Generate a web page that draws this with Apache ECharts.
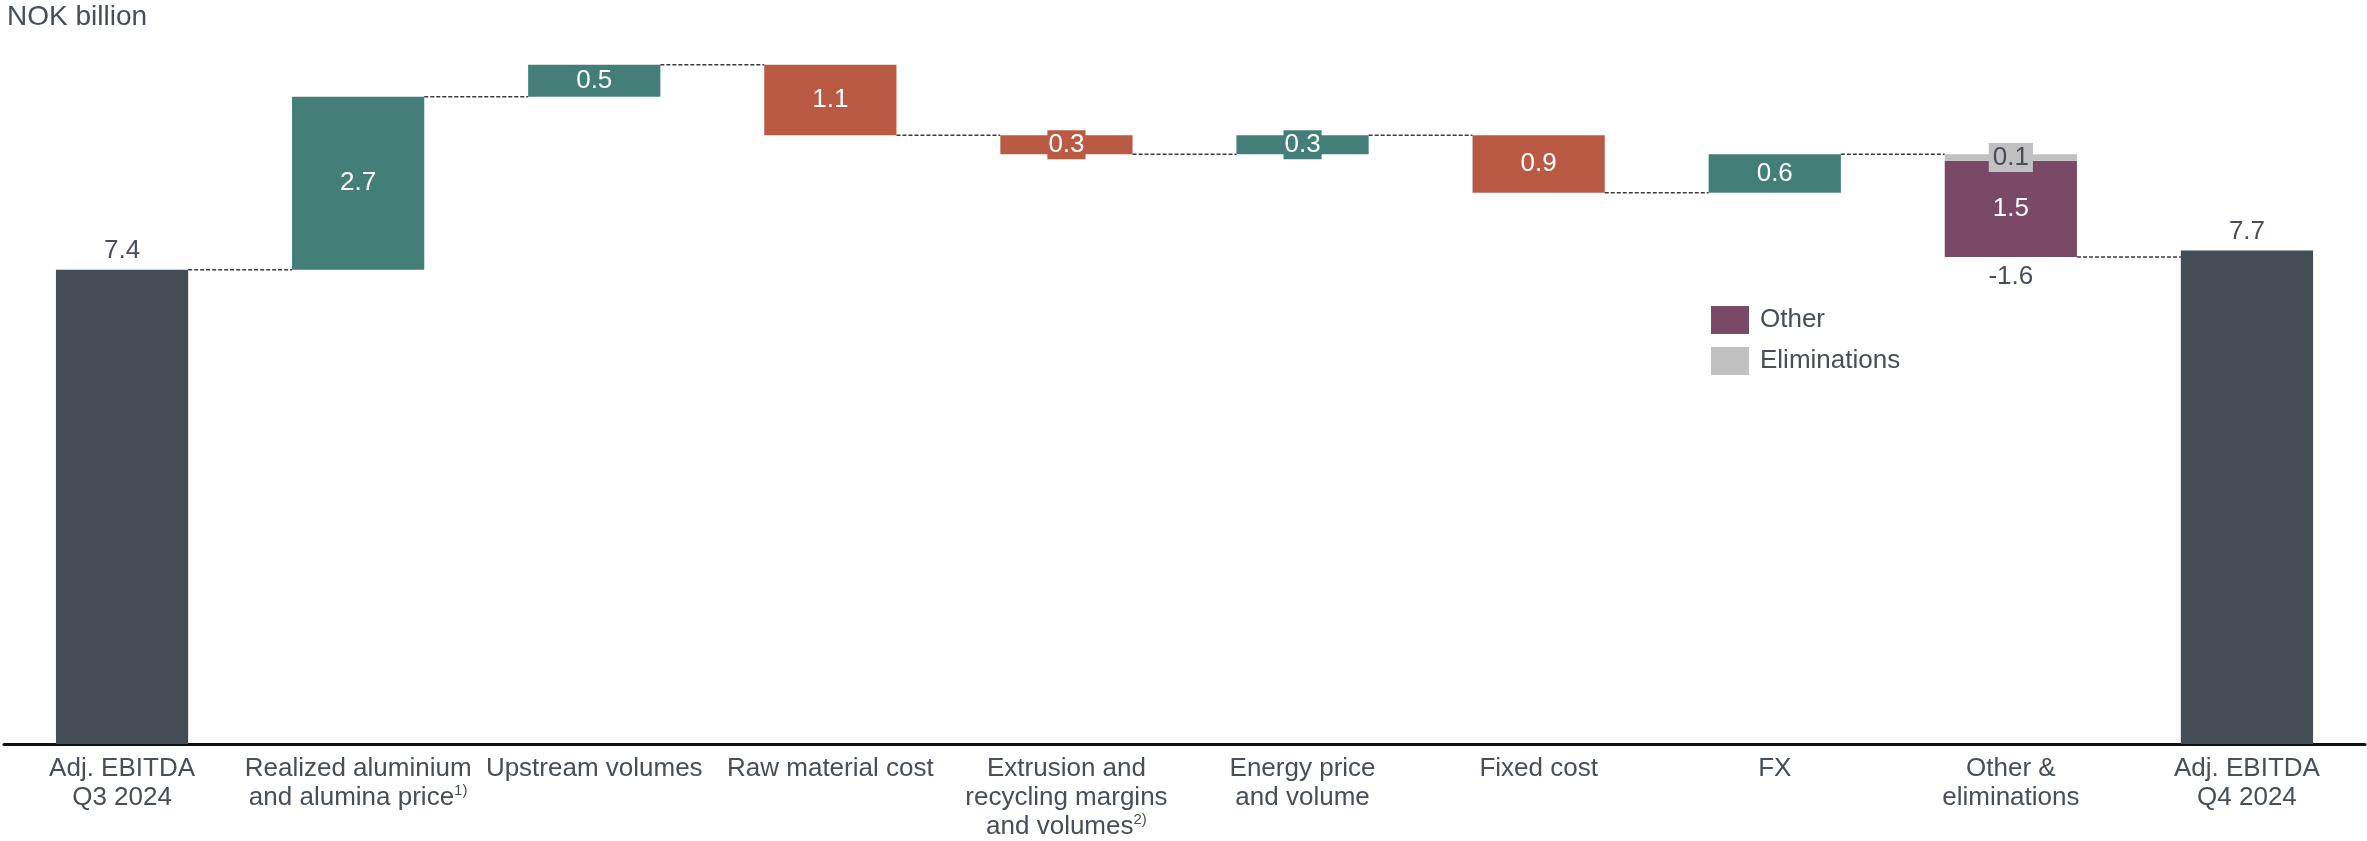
<!DOCTYPE html>
<html>
<head>
<meta charset="utf-8">
<script src="https://cdn.jsdelivr.net/npm/echarts@6/dist/echarts.min.js"></script>
<style>
  html, body { margin: 0; padding: 0; background: #ffffff; }
  #chart { width: 2367px; height: 841px; }
</style>
</head>
<body>
<div id="chart"></div>
<script>
// Adjusted EBITDA bridge, Q3 2024 -> Q4 2024 (NOK billion)
const categories = [
  'Adj. EBITDA\nQ3 2024',
  'Realized aluminium\nand alumina price',
  'Upstream volumes',
  'Raw material cost',
  'Extrusion and\nrecycling margins\nand volumes',
  'Energy price\nand volume',
  'Fixed cost',
  'FX',
  'Other &\neliminations',
  'Adj. EBITDA\nQ4 2024'
];
const footnotes = ['', '1)', '', '', '2)', '', '', '', '', ''];

const startValue = 7.4;
const endValue = 7.7;
// movements for the single-driver steps (index 1..7)
const changes = [null, 2.7, 0.5, -1.1, -0.3, 0.3, -0.9, 0.6, null, null];
// the combined "Other & eliminations" step
const otherValue = -1.5;
const eliminationsValue = -0.1;

const legendNames = ['Other', 'Eliminations'];

const COLORS = {
  total: '#444c56',
  up: '#437f78',
  down: '#ba5a45',
  other: '#7a4968',
  elim: '#c0c0c0',
  text: '#474e58'
};
const FONT = '"Liberation Sans", Arial, sans-serif';
const BAR_W = 0.56;

const r1 = v => Math.round(v * 10) / 10;

// build floating bar pieces
const n = categories.length;
const base = new Array(n).fill('-');
const totals = new Array(n).fill('-');
const ups = new Array(n).fill('-');
const downs = new Array(n).fill('-');
const others = new Array(n).fill('-');
const elims = new Array(n).fill('-');
const levels = []; // running level after each step, for connectors

let running = startValue;
totals[0] = startValue;
levels.push([0, running]);
for (let i = 1; i <= 7; i++) {
  const c = changes[i];
  const next = r1(running + c);
  base[i] = Math.min(running, next);
  if (c >= 0) ups[i] = c; else downs[i] = -c;
  running = next;
  levels.push([i, running]);
}
const combined = r1(otherValue + eliminationsValue);
const afterOther = r1(running + combined);
base[8] = afterOther;
others[8] = -otherValue;
elims[8] = -eliminationsValue;
running = afterOther;
levels.push([8, running]);
totals[9] = endValue;

// label under the combined step shows its net total
const baseData = base.map((v, i) => i === 8 ? {
  value: v,
  label: {
    show: true, position: 'insideTop', distance: 7,
    color: COLORS.text, fontSize: 26, fontFamily: FONT,
    formatter: () => combined.toFixed(1)
  }
} : v);

const fmt = p => Number(p.value).toFixed(1);

function floatLabel(bg, color, padH) {
  return {
    show: true, position: 'inside', formatter: fmt,
    color: color, fontSize: 26, fontFamily: FONT, lineHeight: 27,
    backgroundColor: bg, padding: [1, padH]
  };
}

const chart = echarts.init(document.getElementById('chart'), null, { renderer: 'canvas' });

chart.setOption({
  animation: false,
  backgroundColor: '#ffffff',
  textStyle: { fontFamily: FONT },
  title: {
    text: 'NOK billion',
    left: 7, top: 3, padding: 0,
    textStyle: { fontSize: 28, fontWeight: 'normal', color: COLORS.text, fontFamily: FONT }
  },
  legend: {
    data: legendNames,
    orient: 'vertical',
    left: 1711, top: 306, padding: 0,
    itemWidth: 38, itemHeight: 28, itemGap: 13,
    icon: 'rect',
    selectedMode: false,
    textStyle: { fontSize: 26, color: COLORS.text, fontFamily: FONT, padding: [0, 0, 0, 6] }
  },
  grid: { left: 4, right: 2, top: 39, bottom: 96 },
  xAxis: {
    type: 'category',
    data: categories,
    axisTick: { show: false },
    axisLine: { lineStyle: { color: '#111111', width: 3 } },
    axisLabel: {
      interval: 0,
      margin: 10,
      fontSize: 26,
      lineHeight: 29,
      color: COLORS.text,
      fontFamily: FONT,
      formatter: (value, idx) => footnotes[idx] ? value + '{sup|' + footnotes[idx] + '}' : value,
      rich: {
        sup: { fontSize: 15, color: COLORS.text, fontFamily: FONT, verticalAlign: 'top', lineHeight: 22 }
      }
    }
  },
  yAxis: { type: 'value', min: 0, max: 11, show: false, splitLine: { show: false } },
  series: [
    {
      name: 'base', type: 'bar', stack: 'wf', barWidth: (BAR_W * 100) + '%',
      itemStyle: { color: 'rgba(0,0,0,0)' },
      emphasis: { disabled: true }, silent: true,
      data: baseData
    },
    {
      name: 'Total', type: 'bar', stack: 'wf', barWidth: (BAR_W * 100) + '%',
      itemStyle: { color: COLORS.total },
      label: { show: true, position: 'top', distance: 6, formatter: fmt, color: COLORS.text, fontSize: 26, fontFamily: FONT },
      data: totals
    },
    {
      name: 'Increase', type: 'bar', stack: 'wf', barWidth: (BAR_W * 100) + '%',
      itemStyle: { color: COLORS.up },
      label: floatLabel(COLORS.up, '#ffffff', 1),
      data: ups
    },
    {
      name: 'Decrease', type: 'bar', stack: 'wf', barWidth: (BAR_W * 100) + '%',
      itemStyle: { color: COLORS.down },
      label: floatLabel(COLORS.down, '#ffffff', 1),
      data: downs
    },
    {
      name: 'Other', type: 'bar', stack: 'wf', barWidth: (BAR_W * 100) + '%',
      itemStyle: { color: COLORS.other },
      label: floatLabel(COLORS.other, '#ffffff', 1),
      data: others
    },
    {
      name: 'Eliminations', type: 'bar', stack: 'wf', barWidth: (BAR_W * 100) + '%',
      itemStyle: { color: COLORS.elim },
      label: floatLabel(COLORS.elim, COLORS.text, 4),
      data: elims
    },
    {
      name: 'connectors', type: 'custom', silent: true, z: 1,
      data: levels,
      renderItem: function (params, api) {
        const i = api.value(0);
        const lvl = api.value(1);
        const a = api.coord([i, lvl]);
        const b = api.coord([i + 1, lvl]);
        const half = api.size([1, 0])[0] * BAR_W / 2;
        return {
          type: 'line',
          shape: { x1: a[0] + half, y1: a[1], x2: b[0] - half, y2: b[1] },
          style: { stroke: '#3a3a3a', lineWidth: 1.5, lineDash: [4, 2] }
        };
      }
    }
  ]
});
</script>
</body>
</html>
